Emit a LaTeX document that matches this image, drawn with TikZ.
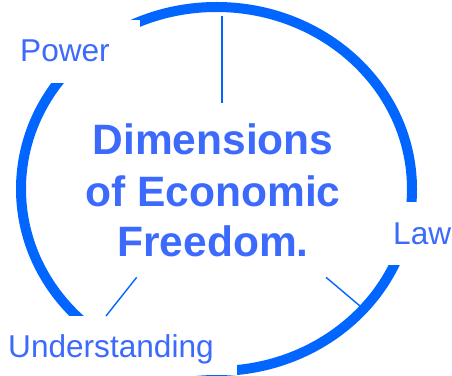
\documentclass[tikz,border=0pt]{standalone}
\usepackage{fontspec}
\setmainfont{Liberation Sans}
\definecolor{ringblue}{RGB}{0,102,255}
\definecolor{textblue}{RGB}{60,106,252}
\begin{document}
\begin{tikzpicture}[x=1pt,y=1pt,
  ring/.style={draw=ringblue,line width=10pt},
  spoke/.style={draw=ringblue,line width=1.4pt},
  gap/.style={fill=white},
  lbl/.style={text=textblue,inner sep=0pt,anchor=base west,font=\fontsize{31.6}{37}\selectfont},
  title/.style={text=textblue,inner sep=0pt,align=center,font=\fontsize{42.5}{51}\selectfont\bfseries}]
\useasboundingbox (0,0) rectangle (452,375);
% ring
\draw[ring] (216.5,186) ellipse [x radius=195.5, y radius=182];
% gaps where the labels sit
\fill[gap] (0,292.3) rectangle (140,355);
\fill[gap] (380,110) rectangle (452,173.3);
\fill[gap] (0,0) rectangle (237,59);
% labels
\node[lbl] (power) at (20,313) {Power};
\node[lbl] (law) at (393,131) {Law};
\node[lbl] (under) at (8,18) {Understanding};
\node[title,anchor=base] (main) at (213,118) {Dimensions\\of Economic\\Freedom.};
% spokes
\coordinate (t1) at (221.7,359);
\coordinate (t2) at (221.7,272.3);
\coordinate (l1) at (136.7,97.7);
\coordinate (l2) at (106,59);
\coordinate (r1) at (326,97.7);
\coordinate (r2) at (360,69);
\draw[spoke,line width=1.8pt] (t1) -- (t2);
\draw[spoke] (l1) -- (l2);
\draw[spoke] (r1) -- (r2);
\end{tikzpicture}
\end{document}
